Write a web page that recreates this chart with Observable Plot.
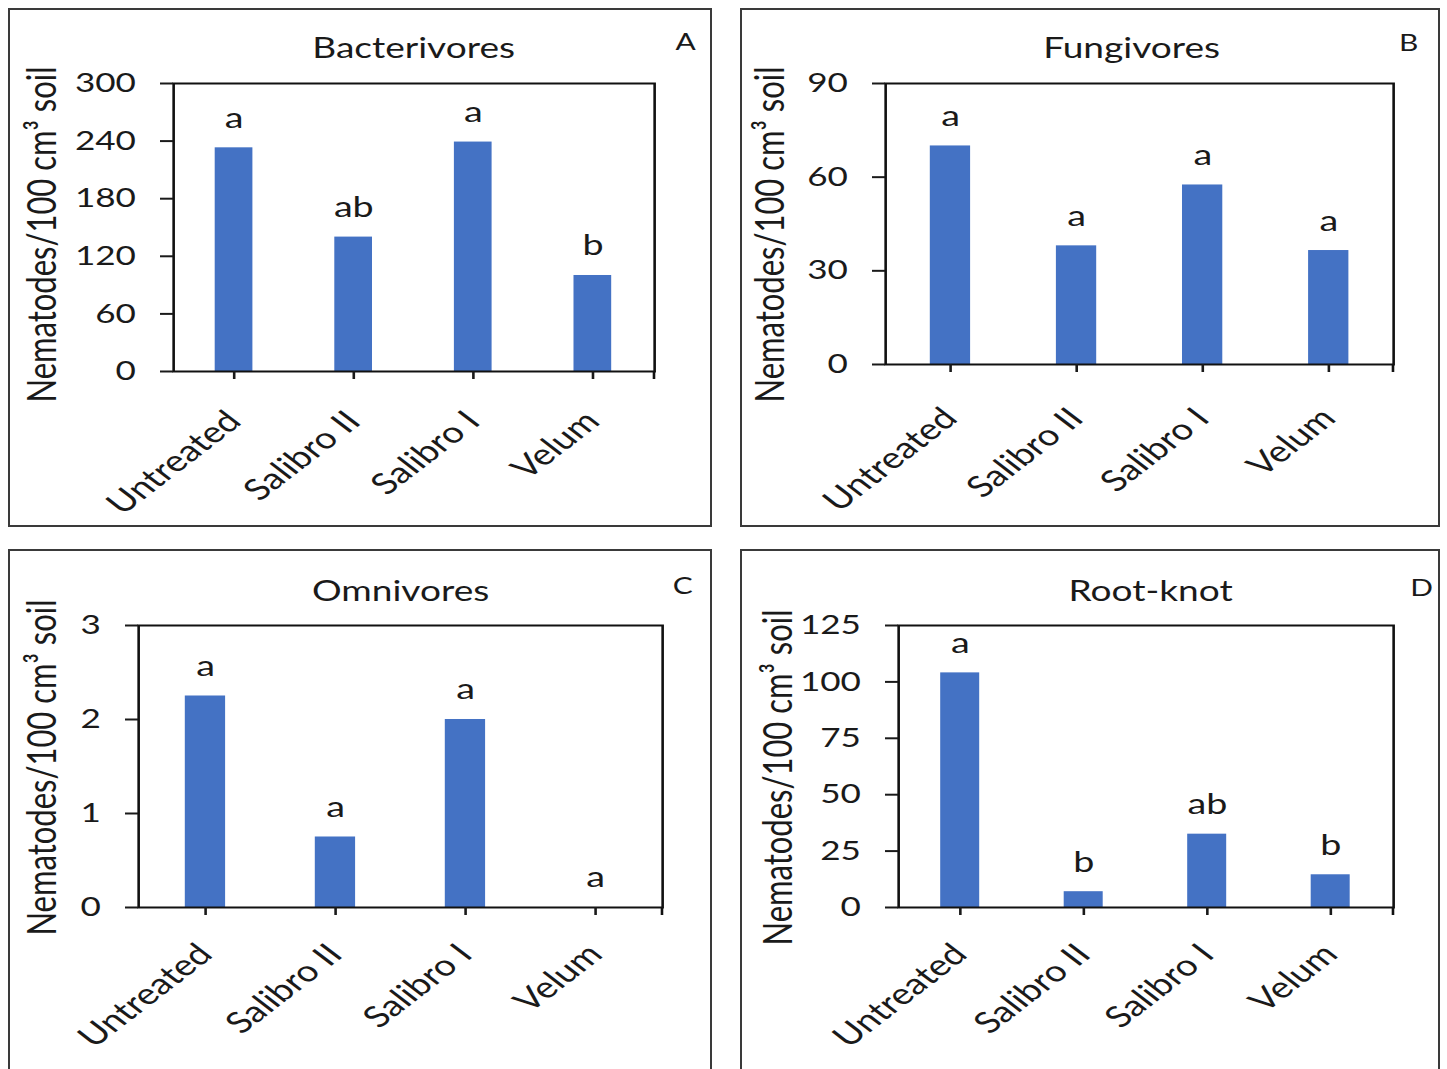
<!DOCTYPE html>
<html>
<head>
<meta charset="utf-8">
<script src="https://cdn.jsdelivr.net/npm/d3@7"></script>
<script src="https://cdn.jsdelivr.net/npm/@observablehq/plot@0.6"></script>
<style>
  html, body { margin: 0; padding: 0; background: #fff; }
  body { width: 1447px; height: 1069px; position: relative; overflow: hidden; font-family: Lato, "Open Sans", sans-serif; }
  .box { position: absolute; border: 2px solid #3a3a3a; box-sizing: border-box; }
  .panel { position: absolute; transform-origin: 0 0; overflow: visible; }
</style>
</head>
<body>
<div id="root"></div>
<script>
// ---------- data ----------
const categories = ["Untreated", "Salibro II", "Salibro I", "Velum"];

const bacterivores = [233, 140, 239, 100];
const bacterivoresLetters = ["a", "ab", "a", "b"];
const bacterivoresTicks = [0, 60, 120, 180, 240, 300];

const fungivores = [70, 38, 57.5, 36.5];
const fungivoresLetters = ["a", "a", "a", "a"];
const fungivoresTicks = [0, 30, 60, 90];

const omnivores = [2.25, 0.75, 2.0, 0];
const omnivoresLetters = ["a", "a", "a", "a"];
const omnivoresTicks = [0, 1, 2, 3];

const rootKnot = [104, 7, 32.5, 14.5];
const rootKnotLetters = ["a", "b", "ab", "b"];
const rootKnotTicks = [0, 25, 50, 75, 100, 125];

const yAxisLabel = "Nematodes/100 cm³ soil";

// ---------- layout (page pixels) ----------
const S = 1.3; // horizontal stretch of the original figure
const panels = [
  {title: "Bacterivores", letter: "A", values: bacterivores, letters: bacterivoresLetters, ticks: bacterivoresTicks,
   box: {l: 8, t: 8, r: 712, b: 527}, frame: {l: 173, r: 654, t: 83, b: 371}, xPad: 37,
   titleX: 413, titleY: 48, letterX: 685, letterY: 42, ylabX: 42, ylabY: 234},
  {title: "Fungivores", letter: "B", values: fungivores, letters: fungivoresLetters, ticks: fungivoresTicks,
   box: {l: 740, t: 8, r: 1440, b: 527}, frame: {l: 885, r: 1393, t: 83, b: 364}, xPad: 41,
   titleX: 1131, titleY: 48, letterX: 1408, letterY: 43, ylabX: 770, ylabY: 234},
  {title: "Omnivores", letter: "C", values: omnivores, letters: omnivoresLetters, ticks: omnivoresTicks,
   box: {l: 8, t: 549, r: 712, b: 1080}, frame: {l: 138, r: 662, t: 625, b: 907}, xPad: 34,
   titleX: 400, titleY: 591, letterX: 682, letterY: 586, ylabX: 42, ylabY: 767},
  {title: "Root-knot", letter: "D", values: rootKnot, letters: rootKnotLetters, ticks: rootKnotTicks,
   box: {l: 740, t: 549, r: 1440, b: 1080}, frame: {l: 898, r: 1393, t: 625, b: 907}, xPad: 34,
   titleX: 1150, titleY: 591, letterX: 1421, letterY: 588, ylabX: 778, ylabY: 777}
];

const root = document.getElementById("root");

function rightEndTick(len) {
  return (index, scales, values, dims) => {
    const x = dims.width - dims.marginRight;
    const y = dims.height - dims.marginBottom;
    const l = document.createElementNS("http://www.w3.org/2000/svg", "line");
    l.setAttribute("x1", x); l.setAttribute("x2", x);
    l.setAttribute("y1", y); l.setAttribute("y2", y + len);
    l.setAttribute("stroke", "#111"); l.setAttribute("stroke-width", 2);
    return l;
  };
}

for (const p of panels) {
  const box = document.createElement("div");
  box.className = "box";
  Object.assign(box.style, {left: p.box.l + "px", top: p.box.t + "px",
    width: (p.box.r - p.box.l) + "px", height: (p.box.b - p.box.t) + "px"});
  root.appendChild(box);

  const H = Math.min(p.box.b, 1069) - p.box.t;
  const W = (p.box.r - p.box.l) / S;
  const ml = (p.frame.l - p.box.l) / S;
  const mr = (p.box.r - p.frame.r) / S;
  const mt = p.frame.t - p.box.t;
  const mb = (p.box.t + H) - p.frame.b;
  const fcx = (p.frame.l + p.frame.r) / 2;
  const fcy = (p.frame.t + p.frame.b) / 2;

  const data = categories.map((c, i) => ({cat: c, value: p.values[i], letter: p.letters[i]}));

  const svg = Plot.plot({
    width: W, height: H,
    marginLeft: ml, marginRight: mr, marginTop: mt, marginBottom: mb,
    style: {fontFamily: "Lato, sans-serif", color: "#1a1a1a", background: "transparent", overflow: "visible"},
    x: {domain: categories, paddingInner: 0.685, paddingOuter: 0.3425, label: null},
    y: {domain: [0, p.ticks[p.ticks.length - 1]], label: null},
    marks: [
      Plot.barY(data, {x: "cat", y: "value", fill: "#4472C4"}),
      Plot.frame({stroke: "#111", strokeWidth: 2}),
      Plot.axisY({ticks: p.ticks, tickSize: 10, tickPadding: 19, fontSize: 27, strokeWidth: 2, label: null, tickFormat: d => String(d)}),
      Plot.axisX({tickSize: 8, tickRotate: -45, tickPadding: p.xPad, fontSize: 29.5, strokeWidth: 2, label: null}),
      rightEndTick(8),
      Plot.text(data, {x: "cat", y: "value", text: "letter", lineAnchor: "bottom", dy: -20, fontSize: 29, fill: "#1a1a1a"}),
      Plot.text([p.title], {frameAnchor: "top", textAnchor: "middle", lineAnchor: "middle",
        dx: (p.titleX - fcx) / S, dy: p.titleY - p.frame.t, fontSize: 28.5, fill: "#1a1a1a"}),
      Plot.text([p.letter], {frameAnchor: "top-right", textAnchor: "middle", lineAnchor: "middle",
        dx: (p.letterX - p.frame.r) / S, dy: p.letterY - p.frame.t, fontSize: 23, fill: "#1a1a1a"}),
      Plot.text([yAxisLabel], {frameAnchor: "left", rotate: -90, textAnchor: "middle", lineAnchor: "middle",
        dx: (p.ylabX - p.frame.l) / S, dy: p.ylabY - fcy, fontSize: 31, fill: "#1a1a1a"})
    ]
  });
  svg.classList.add("panel");
  Object.assign(svg.style, {left: p.box.l + "px", top: p.box.t + "px", transform: `scaleX(${S})`, position: "absolute"});
  root.appendChild(svg);
}
</script>
</body>
</html>
